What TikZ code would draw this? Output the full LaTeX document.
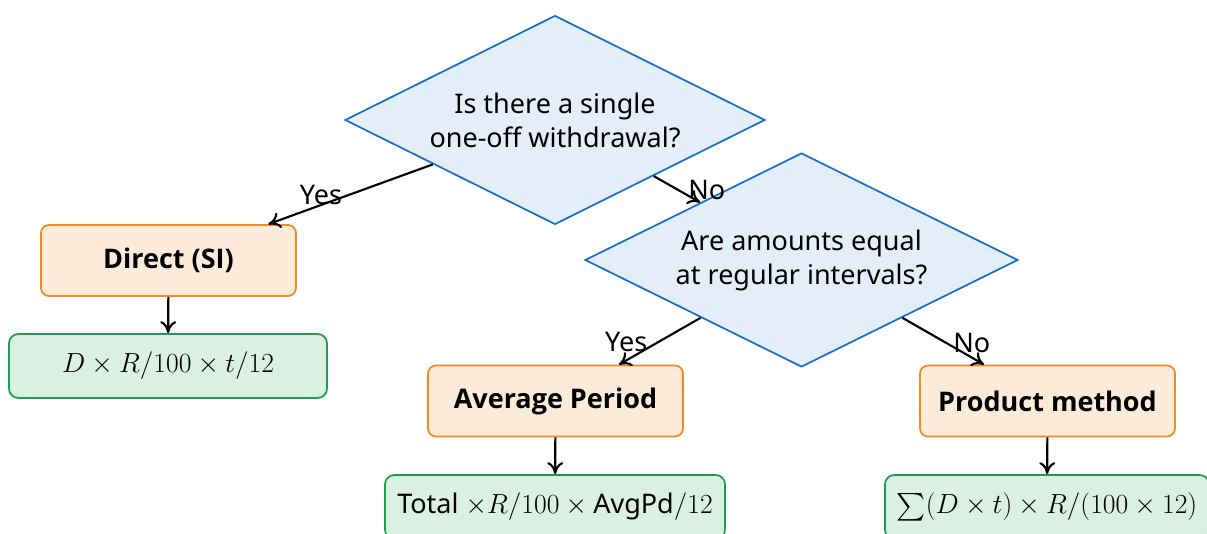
\documentclass[tikz,border=0pt]{standalone}
\usepackage[no-math]{fontspec}
\setmainfont{Noto Sans}
\newfontfamily\bfam{Open Sans}
\usepackage{amsmath}
\usetikzlibrary{shapes.geometric,arrows.meta}
\definecolor{decfill}{HTML}{E3EEF9}
\definecolor{decline}{HTML}{1A6FCC}
\definecolor{procfill}{HTML}{FDEBDA}
\definecolor{procline}{HTML}{F28A1E}
\definecolor{resfill}{HTML}{D9F0E3}
\definecolor{resline}{HTML}{1E9E4C}
\newcommand{\mainsz}{\fontsize{20.25pt}{25.5pt}\selectfont}
\tikzset{
  decbox/.style={shape=diamond, aspect=2.01, draw=decline, fill=decfill, line width=1.3pt,
    inner sep=0pt, align=center, font=\mainsz},
  procbox/.style={rectangle, rounded corners=6pt, draw=procline, fill=procfill,
    line width=1.3pt, minimum width=191.25pt, minimum height=53.25pt,
    font=\mainsz\bfam\bfseries},
  resbox/.style={rectangle, rounded corners=7pt, draw=resline, fill=resfill,
    line width=1.3pt, minimum height=48pt, inner sep=0pt, font=\mainsz},
  arr/.style={-{To[length=9pt,width=12pt]}, line width=1.6pt, draw=black},
  lbl/.style={font=\mainsz, inner sep=0pt}
}
\begin{document}
\begin{tikzpicture}[x=0.75pt,y=-0.75pt]
\useasboundingbox (0,0) rectangle (1207,534);
\node[decbox, minimum width=315pt, minimum height=156.75pt] (d1) at (555,120)
  {Is there a single\\one-off withdrawal?};
\node[decbox, minimum width=324.75pt, minimum height=160.5pt] (d2) at (801.5,260)
  {Are amounts equal\\at regular intervals?};
\node[procbox] (direct) at (168.5,260.5) {Direct (SI)};
\node[procbox] (avg) at (555.5,401) {Average Period};
\node[procbox] (prod) at (1047.5,401) {Product method};
\node[resbox, minimum width=238.5pt] (f1) at (168,366)
  {$D \times R/100 \times t/12$};
\node[resbox, minimum width=255pt] (f2) at (555,507)
  {Total $\times R/100 \times \text{AvgPd}/12$};
\node[resbox, minimum width=243pt] (f3) at (1047,507)
  {$\sum(D \times t) \times R/(100 \times 12)$};
\draw[arr] (d1) -- (direct) node[lbl, pos=0.68, yshift=7.5pt] (l1) {Yes};
\draw[arr] (d1) -- (d2) node[lbl, pos=1, xshift=5pt, yshift=9pt] (l2) {No};
\draw[arr] (d2) -- (avg) node[lbl, pos=0.91, yshift=14pt] (l3) {Yes};
\draw[arr] (d2) -- (prod) node[lbl, pos=0.85, yshift=11pt] (l4) {No};
\draw[arr] (direct) -- (f1);
\draw[arr] (avg) -- (f2);
\draw[arr] (prod) -- (f3);
\end{tikzpicture}
\end{document}
